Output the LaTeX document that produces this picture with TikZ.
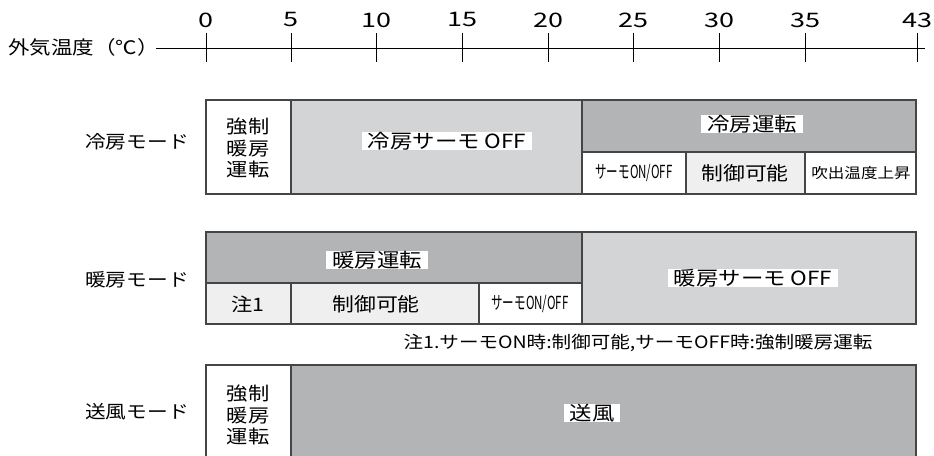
\documentclass[tikz,border=0pt]{standalone}
\usepackage{fontspec}
\setmainfont{Noto Sans CJK JP}[FakeStretch=1.15]
\newfontfamily\narrowfont{Noto Sans CJK JP}[FakeStretch=0.64]
\newfontfamily\digitfont{Noto Sans CJK JP}[FakeStretch=1.35]
\usetikzlibrary{positioning}
\definecolor{lineg}{HTML}{454545}
\definecolor{lightg}{HTML}{D3D4D6}
\definecolor{darkg}{HTML}{B3B4B6}
\definecolor{paleg}{HTML}{EFEFEF}

\begin{document}
\begin{tikzpicture}[x=1pt,y=-1pt,
  cellbox/.style={draw=lineg, line width=1.1pt},
  tag/.style={fill=white, inner xsep=6pt, inner ysep=0pt, font=\fontsize{19.5}{22}\selectfont},
  txt/.style={inner sep=0pt, font=\fontsize{18}{21}\selectfont},
  stack/.style={inner sep=0pt, align=center, font=\fontsize{18.5}{21.5}\selectfont},
  smalltxt/.style={inner sep=0pt, font=\fontsize{14.4}{17}\selectfont},
  narrowtxt/.style={inner sep=0pt, font=\narrowfont\fontsize{18}{20}\selectfont}]
  \clip (0,0) rectangle (934,455);
  \useasboundingbox (0,0) rectangle (934,455);

  % temperature axis
  \node (axlabel) [inner sep=0pt, font=\fontsize{18.7}{21}\selectfont, anchor=east] at (159,47) {外気温度（℃）};
  \coordinate (axstart) at (156,48);
  \coordinate (axend) at (925,48);
  \draw [line width=1pt] (axstart) -- (axend);
  \foreach \v/\x in {0/206,5/291,10/376,15/462,20/548,25/633,30/719,35/805,43/917}
  {
    \draw [line width=1pt] (\x,33) -- (\x,62);
    \node (t\v) [inner sep=0pt, font=\digitfont\fontsize{20}{22}\selectfont] at (\x,20) {\v};
  }

  % cooling mode
  \node (coolmode) [txt] at (137,142) {冷房モード};
  \filldraw [cellbox, fill=white] (206,100) rectangle (291,194);
  \filldraw [cellbox, fill=lightg] (291,100) rectangle (582,194);
  \filldraw [cellbox, fill=darkg] (582,100) rectangle (916,152);
  \filldraw [cellbox, fill=white] (582,152) rectangle (686,194);
  \filldraw [cellbox, fill=paleg] (686,152) rectangle (805,194);
  \filldraw [cellbox, fill=white] (805,152) rectangle (916,194);
  \node (coolforce) [stack] at (248,148) {強制\\暖房\\運転};
  \node (cooloff) [tag] at (447,141) {冷房サーモ OFF};
  \node (coolrun) [tag] at (752,124) {冷房運転};
  \node (coolonoff) [narrowtxt] at (634,173) {サーモON/OFF};
  \node (coolctrl) [inner sep=0pt, font=\fontsize{19}{21}\selectfont] at (745,173) {制御可能};
  \node (coolrise) [smalltxt] at (861,173) {吹出温度上昇};

  % heating mode
  \node (heatmode) [txt] at (137,280) {暖房モード};
  \filldraw [cellbox, fill=darkg] (206,232) rectangle (582,283);
  \filldraw [cellbox, fill=paleg] (206,283) rectangle (291,324);
  \filldraw [cellbox, fill=paleg] (291,283) rectangle (479,324);
  \filldraw [cellbox, fill=white] (479,283) rectangle (582,324);
  \filldraw [cellbox, fill=lightg] (582,232) rectangle (916,324);
  \node (heatrun) [tag] at (377,260) {暖房運転};
  \node (heatoff) [tag] at (753,278) {暖房サーモ OFF};
  \node (note1) [inner sep=0pt, font=\fontsize{18.5}{21}\selectfont] at (248,304) {注1};
  \node (heatctrl) [inner sep=0pt, font=\fontsize{19}{21}\selectfont] at (376,304) {制御可能};
  \node (heatonoff) [narrowtxt] at (530,304) {サーモON/OFF};
  \node (notetext) [inner sep=0pt, font=\fontsize{17}{20}\selectfont] at (638,343) {注1.サーモON時:制御可能,サーモOFF時:強制暖房運転};

  % fan mode
  \node (fanmode) [txt] at (137,412) {送風モード};
  \filldraw [cellbox, fill=white] (206,365) rectangle (291,460);
  \filldraw [cellbox, fill=darkg] (291,365) rectangle (916,460);
  \node (fanforce) [stack] at (248,415) {強制\\暖房\\運転};
  \node (fanrun) [tag] at (592,413) {送風};
\end{tikzpicture}
\end{document}
